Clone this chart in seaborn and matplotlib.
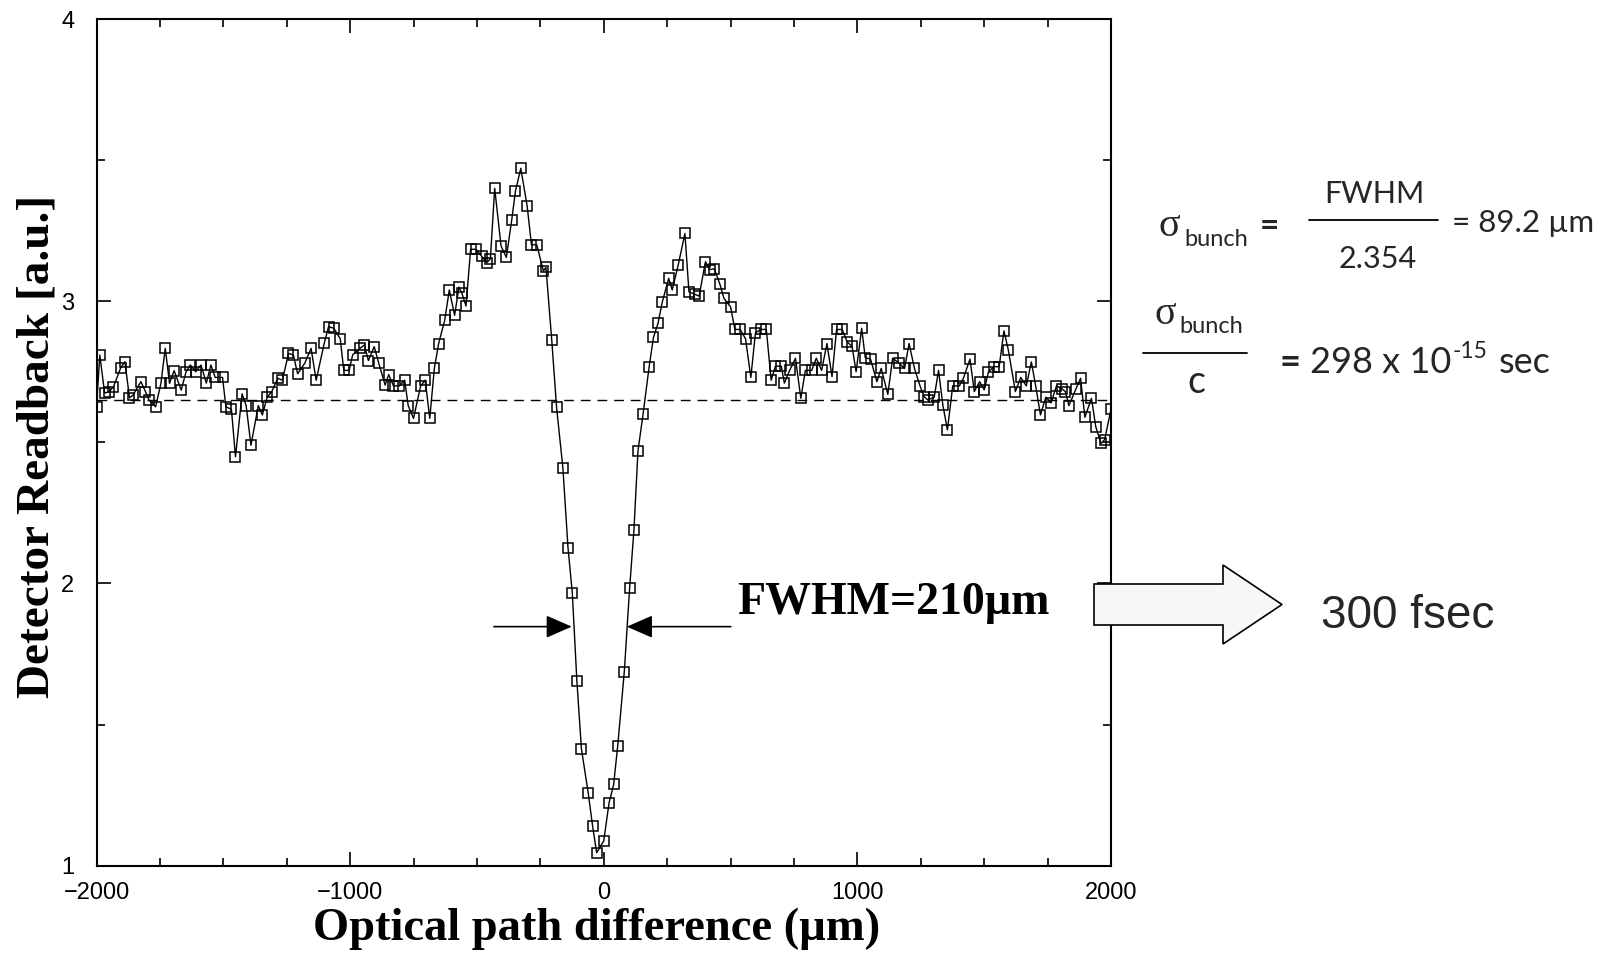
import numpy as np
import pandas as pd
import matplotlib
matplotlib.use("Agg")
import matplotlib.pyplot as plt
import seaborn as sns
from matplotlib.lines import Line2D
from matplotlib.patches import Polygon
from matplotlib.ticker import MultipleLocator

# ---------------- data ----------------
x_um = [-2000, -1987, -1968, -1951, -1933, -1905, -1888, -1870, -1856, -1825,
        -1807, -1793, -1767, -1746, -1729, -1712, -1694, -1666, -1647, -1630,
        -1609, -1588, -1567, -1549, -1532, -1503, -1490, -1468, -1452, -1426,
        -1410, -1391, -1362, -1346, -1327, -1309, -1285, -1267, -1243, -1224,
        -1207, -1179, -1154, -1134, -1102, -1085, -1064, -1039, -1025, -1004,
        -990, -961, -944, -928, -905, -887, -862, -848, -829, -806,
        -785, -771, -750, -722, -704, -686, -668, -651, -627, -609,
        -588, -571, -560, -543, -525, -504, -482, -461, -447, -430,
        -405, -384, -363, -348, -327, -302, -285, -264, -238, -228,
        -205, -186, -161, -141, -124, -106, -88, -61, -44, -28,
        0, 21, 39, 55, 81, 102, 119, 135, 155, 179,
        196, 214, 231, 256, 270, 294, 320, 336, 358, 376,
        401, 418, 436, 458, 474, 500, 517, 538, 559, 580,
        598, 620, 641, 660, 677, 700, 712, 733, 756, 777,
        795, 820, 838, 859, 880, 900, 918, 940, 960, 979,
        995, 1017, 1031, 1052, 1077, 1094, 1120, 1139, 1165, 1186,
        1204, 1225, 1247, 1263, 1278, 1303, 1320, 1337, 1355, 1376,
        1402, 1418, 1444, 1461, 1482, 1500, 1517, 1538, 1559, 1578,
        1595, 1623, 1644, 1666, 1686, 1703, 1722, 1743, 1764, 1785,
        1806, 1820, 1834, 1862, 1880, 1897, 1923, 1940, 1961, 1975,
        2000]

readback = [2.624, 2.809, 2.675, 2.679, 2.697, 2.763, 2.786, 2.658, 2.667, 2.715,
            2.680, 2.650, 2.626, 2.709, 2.833, 2.709, 2.754, 2.685, 2.750, 2.774,
            2.750, 2.774, 2.710, 2.774, 2.730, 2.730, 2.626, 2.617, 2.449, 2.672,
            2.630, 2.490, 2.630, 2.597, 2.660, 2.680, 2.727, 2.720, 2.815, 2.810,
            2.743, 2.780, 2.833, 2.720, 2.851, 2.910, 2.904, 2.867, 2.755, 2.755,
            2.810, 2.833, 2.845, 2.790, 2.839, 2.780, 2.703, 2.740, 2.700, 2.700,
            2.720, 2.630, 2.585, 2.700, 2.720, 2.585, 2.762, 2.850, 2.933, 3.040,
            2.950, 3.050, 3.030, 2.983, 3.184, 3.184, 3.160, 3.137, 3.150, 3.400,
            3.196, 3.155, 3.287, 3.391, 3.471, 3.337, 3.200, 3.200, 3.107, 3.120,
            2.862, 2.624, 2.408, 2.127, 1.967, 1.655, 1.414, 1.256, 1.141, 1.046,
            1.088, 1.223, 1.288, 1.424, 1.687, 1.983, 2.189, 2.470, 2.600, 2.768,
            2.872, 2.922, 2.998, 3.081, 3.040, 3.130, 3.240, 3.033, 3.025, 3.018,
            3.140, 3.112, 3.115, 3.060, 3.010, 2.980, 2.900, 2.900, 2.867, 2.730,
            2.888, 2.900, 2.900, 2.720, 2.770, 2.770, 2.710, 2.755, 2.798, 2.656,
            2.755, 2.755, 2.798, 2.755, 2.850, 2.733, 2.900, 2.900, 2.856, 2.840,
            2.750, 2.904, 2.800, 2.795, 2.715, 2.762, 2.670, 2.798, 2.780, 2.762,
            2.850, 2.762, 2.700, 2.662, 2.650, 2.660, 2.755, 2.632, 2.544, 2.700,
            2.700, 2.727, 2.795, 2.680, 2.715, 2.686, 2.750, 2.768, 2.768, 2.895,
            2.828, 2.680, 2.730, 2.700, 2.785, 2.700, 2.597, 2.660, 2.640, 2.700,
            2.690, 2.680, 2.630, 2.690, 2.727, 2.589, 2.656, 2.555, 2.496, 2.510,
            2.617]

baseline_level = 2.65
fwhm_left, fwhm_right, fwhm_level = -126, 91, 1.847
fwhm_left_tail, fwhm_right_tail = -433, 501

xticks_major = [-2000, -1000, 0, 1000, 2000]
yticks_major = [1, 2, 3, 4]

df = pd.DataFrame({"opd": x_um, "readback": readback})

# ---------------- figure ----------------
W, H = 1623, 955
sns.set_theme(style="ticks")
plt.rcParams["font.family"] = ["Liberation Sans", "DejaVu Sans"]

fig = plt.figure(figsize=(W / 100, H / 100), dpi=100)
ax = fig.add_axes([96.5 / W, 1 - 865.7 / H, 1014.5 / W, 846.7 / H])

sns.lineplot(data=df, x="opd", y="readback", ax=ax, sort=False, estimator=None,
             color="black", linewidth=1.0, marker="s", markersize=7.5,
             markerfacecolor="none", markeredgecolor="black",
             markeredgewidth=1.1, legend=False)

ax.axhline(baseline_level, color="black", lw=1.0, ls=(0, (7, 5)), zorder=1)

ax.set_xlim(-2000, 2000)
ax.set_ylim(1, 4)
ax.set_xticks(xticks_major)
ax.set_yticks(yticks_major)
ax.xaxis.set_minor_locator(MultipleLocator(250))
ax.yaxis.set_minor_locator(MultipleLocator(0.5))
ax.set_xticklabels(["\u22122000", "\u22121000", "0", "1000", "2000"])
ax.set_yticklabels(["1", "2", "3", "4"])
ax.tick_params(which="both", direction="in", top=True, right=True,
               colors="black", width=1.2)
ax.tick_params(which="major", length=10, labelsize=17, pad=12)
ax.tick_params(axis="y", which="major", pad=16)
ax.tick_params(which="minor", length=6)
for sp in ax.spines.values():
    sp.set_visible(True)
    sp.set_linewidth(1.5)
    sp.set_color("black")

serif = ["Liberation Serif", "DejaVu Serif"]
ax.set_xlabel("Optical path difference (\u00b5m)", fontsize=33.5,
              fontweight="bold", family=serif, color="black")
ax.set_ylabel("Detector Readback [a.u.]", fontsize=34,
              fontweight="bold", family=serif, color="black")
ax.xaxis.set_label_coords(0.493, -0.05)
ax.yaxis.set_label_coords(-0.037, 0.495)

# FWHM arrows and label
arrow_kw = dict(arrowstyle="-|>,head_length=0.8,head_width=0.35",
                mutation_scale=20, color="black", lw=1.2,
                shrinkA=0, shrinkB=0)
ax.annotate("", xy=(fwhm_left, fwhm_level), xytext=(fwhm_left_tail, fwhm_level),
            arrowprops=arrow_kw)
ax.annotate("", xy=(fwhm_right, fwhm_level), xytext=(fwhm_right_tail, fwhm_level),
            arrowprops=arrow_kw)
ax.text(527, 1.892, "FWHM=210\u00b5m", fontsize=33, fontweight="bold",
        family=serif, va="baseline", ha="left", color="black")


# ---------------- right-hand annotations (figure pixels) ----------------
def ftxt(xp, yp, s, **kw):
    return fig.text(xp / W, 1 - yp / H, s, **kw)


def fline(x1, x2, yp, lw=1.3):
    fig.add_artist(Line2D([x1 / W, x2 / W], [1 - yp / H, 1 - yp / H],
                          transform=fig.transFigure, color="black", lw=lw))


sans2 = ["Lato", "DejaVu Sans"]
renderer = fig.canvas.get_renderer()

# sigma_bunch = FWHM / 2.354 = 89.2 um
ftxt(1159, 236, "\u03c3", fontsize=29, family=serif, va="baseline", ha="left")
ftxt(1184, 246, "bunch", fontsize=17, family=sans2, va="baseline", ha="left")
ftxt(1260, 236, "=", fontsize=24, family=sans2, fontweight="bold",
     va="baseline", ha="left")
ftxt(1374, 203, "FWHM", fontsize=22, family=sans2, va="baseline", ha="center")
fline(1309, 1438, 220)
ftxt(1378, 268, "2.354", fontsize=22, family=sans2, va="baseline", ha="center")
ftxt(1452, 232, "= 89.2 \u00b5m", fontsize=22.5, family=sans2, va="baseline",
     ha="left")

# sigma_bunch / c = 298 x 10^-15 sec
ftxt(1154, 324, "\u03c3", fontsize=29, family=serif, va="baseline", ha="left")
ftxt(1179, 333, "bunch", fontsize=17, family=sans2, va="baseline", ha="left")
fline(1143, 1247, 353)
ftxt(1196, 393, "c", fontsize=27, family=sans2, va="baseline", ha="center")
ftxt(1279, 373, "=", fontsize=26, family=sans2, fontweight="bold",
     va="baseline", ha="left")
t_main = ftxt(1310, 373, "298 x 10", fontsize=26, family=sans2,
              va="baseline", ha="left")
bb = t_main.get_window_extent(renderer=renderer)
t_sup = fig.text(bb.x1 / W + 1.5 / W, 1 - 358 / H, "-15", fontsize=16.5,
                 family=sans2, va="baseline", ha="left")
bb2 = t_sup.get_window_extent(renderer=renderer)
fig.text(bb2.x1 / W + 11 / W, 1 - 373 / H, "sec", fontsize=26, family=sans2,
         va="baseline", ha="left")

# hollow block arrow -> 300 fsec
arrow_px = [(1094, 584), (1223, 584), (1223, 565), (1282, 604.5),
            (1223, 644), (1223, 625), (1094, 625)]
fig.add_artist(Polygon([(xp / W, 1 - yp / H) for xp, yp in arrow_px],
                       closed=True, transform=fig.transFigure,
                       facecolor="#f7f7f7", edgecolor="black", lw=1.2))
ftxt(1321, 628, "300 fsec", fontsize=33, family=["Liberation Sans"],
     va="baseline", ha="left")

fig.savefig("out.png", dpi=100)
